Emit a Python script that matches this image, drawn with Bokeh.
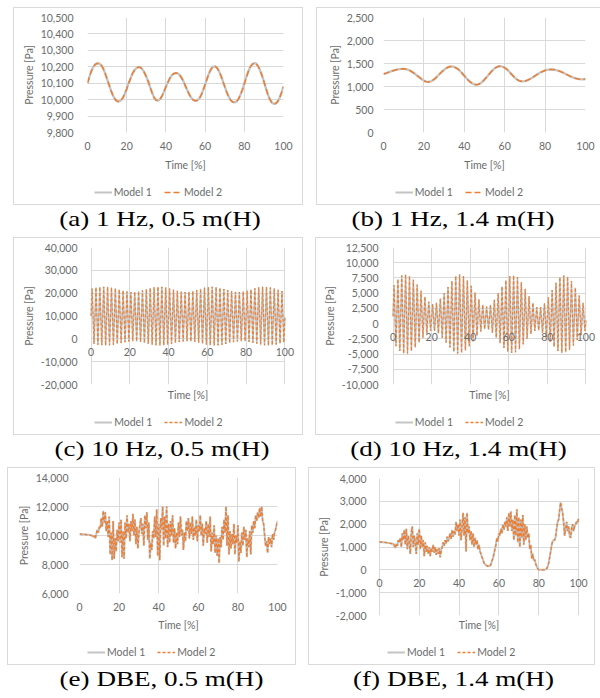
from bokeh.plotting import figure
from bokeh.models import (Range1d, FixedTicker, NumeralTickFormatter, LinearAxis,
                          Legend, LegendItem, Div, Grid)
from bokeh.layouts import column, row
from bokeh.embed import file_html
from bokeh.resources import INLINE

# ---------------- data ----------------
x_ticks = [0, 20, 40, 60, 80, 100]
series_labels = ["Model 1", "Model 2"]
captions = ["(a) 1 Hz, 0.5 m(H)", "(b) 1 Hz, 1.4 m(H)", "(c) 10 Hz, 0.5 m(H)",
            "(d) 10 Hz, 1.4 m(H)", "(e) DBE, 0.5 m(H)", "(f) DBE, 1.4 m(H)"]

y_ticks_a = [9800, 9900, 10000, 10100, 10200, 10300, 10400, 10500]
y_ticks_b = [0, 500, 1000, 1500, 2000, 2500]
y_ticks_c = [-20000, -10000, 0, 10000, 20000, 30000, 40000]
y_ticks_d = [-10000, -7500, -5000, -2500, 0, 2500, 5000, 7500, 10000, 12500]
y_ticks_e = [6000, 8000, 10000, 12000, 14000]
y_ticks_f = [-2000, -1000, 0, 1000, 2000, 3000, 4000]

time_1hz = list(range(101))
pressure_a = [10100, 10140, 10175, 10200, 10215, 10221, 10220, 10210, 10190, 10160,
              10125, 10090, 10055, 10025, 10003, 9991, 9988, 9995, 10010, 10035,
              10065, 10100, 10130, 10160, 10180, 10193, 10198, 10196, 10185, 10165,
              10140, 10110, 10075, 10040, 10012, 9997, 9994, 10003, 10022, 10048,
              10078, 10105, 10130, 10148, 10158, 10162, 10160, 10150, 10133, 10110,
              10082, 10055, 10030, 10010, 9998, 9993, 9995, 10006, 10028, 10058,
              10092, 10127, 10160, 10185, 10200, 10203, 10195, 10175, 10148, 10115,
              10080, 10047, 10018, 9998, 9986, 9983, 9988, 10003, 10028, 10060,
              10097, 10135, 10170, 10198, 10215, 10222, 10220, 10205, 10180, 10148,
              10110, 10070, 10033, 10003, 9983, 9975, 9976, 9988, 10010, 10043,
              10080]
pressure_b = [1270, 1285, 1300, 1318, 1333, 1347, 1360, 1370, 1378, 1383,
              1384, 1378, 1366, 1348, 1322, 1292, 1260, 1225, 1190, 1157,
              1127, 1106, 1098, 1103, 1122, 1153, 1193, 1238, 1283, 1326,
              1363, 1395, 1420, 1433, 1435, 1425, 1403, 1372, 1332, 1285,
              1235, 1184, 1137, 1097, 1065, 1045, 1040, 1048, 1070, 1105,
              1150, 1200, 1253, 1305, 1352, 1392, 1422, 1438, 1440, 1430,
              1408, 1375, 1333, 1285, 1237, 1192, 1155, 1128, 1114, 1112,
              1118, 1132, 1152, 1176, 1203, 1231, 1259, 1286, 1311, 1332,
              1349, 1361, 1368, 1370, 1368, 1362, 1351, 1336, 1318, 1298,
              1276, 1254, 1232, 1212, 1194, 1179, 1167, 1159, 1155, 1157,
              1163]

# 10 Hz: one peak and one trough per 2 % of time
start_c, end_c = 10000, 9500
peaks_c = [22000, 22500, 22700, 22800, 22750, 22500, 22100, 21600, 21100, 20700,
           20500, 20550, 20800, 21250, 21750, 22250, 22600, 22800, 22750, 22450,
           22000, 21500, 21000, 20650, 20500, 20600, 20900, 21400, 21900, 22400,
           22700, 22800, 22650, 22300, 21850, 21350, 20850, 20550, 20500, 20700,
           21100, 21600, 22100, 22550, 22800, 22750, 22450, 22000, 21450, 20950]
troughs_c = [-2200, -2600, -2800, -2900, -2850, -2600, -2250, -1850, -1450, -1150,
             -1000, -1100, -1400, -1800, -2200, -2550, -2800, -2900, -2800, -2550,
             -2200, -1800, -1400, -1100, -1000, -1100, -1350, -1750, -2150, -2500,
             -2750, -2900, -2850, -2600, -2250, -1850, -1450, -1150, -1000, -1050,
             -1300, -1700, -2100, -2500, -2800, -2900, -2750, -2450, -2050, -1600]
start_d, end_d = 1200, 500
peaks_d = [6300, 7300, 7900, 8050, 7800, 7200, 6400, 5400, 4400, 3600,
           3200, 3400, 4100, 5000, 6000, 7000, 7800, 8050, 7800, 7100,
           6200, 5100, 4000, 3100, 2800, 3100, 3900, 5000, 6100, 7100,
           7800, 7900, 7600, 6800, 5700, 4500, 3400, 2700, 2700, 3300,
           4300, 5500, 6700, 7600, 7900, 7700, 7000, 5900, 4600, 3400]
troughs_d = [-3700, -4500, -4900, -4900, -4500, -3900, -3100, -2300, -1600, -1200,
             -1200, -1600, -2300, -3100, -3900, -4600, -4900, -4800, -4400, -3700,
             -2900, -2000, -1300, -900, -1000, -1500, -2300, -3200, -4000, -4600,
             -4800, -4700, -4200, -3400, -2500, -1700, -1200, -1100, -1500, -2200,
             -3000, -3800, -4500, -4800, -4700, -4300, -3600, -2700, -1900, -1200]

time_dbe = [i * 0.5 for i in range(201)]
pressure_e = [10100, 10100, 10090, 10090, 10080, 10080, 10070, 10060, 10060, 10050,
              10040, 10030, 9980, 10020, 9900, 9980, 9800, 10100, 10400, 10200,
              10600, 10500, 11200, 10600, 11700, 10900, 11600, 10300, 11000, 9900,
              11300, 8700, 10200, 8300, 11000, 8400, 9800, 8900, 10400, 9600,
              10900, 9500, 11100, 8500, 10300, 8400, 10900, 9800, 11400, 10200,
              10800, 9600, 11000, 10300, 11500, 10000, 11100, 9400, 10600, 9100,
              10200, 10700, 11200, 10100, 10800, 9300, 11400, 10500, 11600, 9700,
              10900, 8400, 9500, 9000, 10300, 9800, 11300, 9900, 11800, 8600,
              10800, 8300, 11200, 10400, 12000, 9300, 11300, 9800, 12000, 9200,
              10800, 9500, 11000, 10000, 11400, 9500, 10500, 9100, 10200, 9400,
              10900, 9900, 11300, 10000, 10400, 9000, 10200, 9600, 11000, 10300,
              11200, 9800, 10900, 10100, 11300, 9700, 10600, 10000, 11100, 9600,
              10700, 10300, 11400, 10000, 10800, 9300, 10500, 10100, 11000, 9500,
              10800, 9900, 11300, 8900, 10200, 9400, 10700, 8800, 10000, 8600,
              9800, 8100, 9900, 9200, 10600, 9700, 11100, 10200, 12000, 9300,
              11400, 8700, 10300, 9100, 10100, 9400, 10800, 8700, 10000, 9500,
              10700, 8200, 9600, 8800, 10200, 9300, 10600, 9700, 10400, 8500,
              9800, 9200, 10300, 8700, 10700, 10200, 11000, 10500, 11400, 11000,
              11600, 11200, 11900, 11300, 12000, 11000, 10800, 10000, 9300, 9600,
              8800, 9900, 9400, 9800, 9200, 10100, 9700, 10200, 10400, 10700,
              11000]
pressure_f = [1220, 1220, 1210, 1210, 1210, 1200, 1200, 1190, 1180, 1180,
              1170, 1160, 1150, 1140, 1150, 1050, 950, 1150, 1050, 1300,
              1200, 1400, 1000, 1600, 1300, 1750, 1100, 1800, 900, 1500,
              1200, 700, 1650, 1900, 1000, 1500, 1200, 700, 1600, 1100,
              1800, 900, 1500, 1000, 1300, 600, 1200, 800, 1050, 700,
              1000, 600, 950, 800, 1100, 750, 1000, 650, 900, 700,
              950, 550, 850, 1000, 1200, 1050, 1300, 1150, 1450, 1250,
              1400, 1600, 1350, 1750, 1450, 1700, 1550, 2100, 1700, 2000,
              1500, 2200, 1300, 1900, 2500, 1500, 2300, 800, 2500, 1600,
              1900, 1300, 1700, 1100, 1600, 1000, 1400, 1100, 1300, 900,
              1100, 800, 700, 550, 450, 300, 250, 200, 180, 150,
              180, 160, 250, 400, 500, 700, 900, 1100, 1400, 1250,
              1600, 1500, 1800, 1600, 2000, 1750, 2100, 1900, 2300, 1700,
              2500, 1900, 2550, 1700, 2200, 1300, 2400, 1500, 2650, 1200,
              2300, 1000, 2200, 1400, 2400, 1100, 2000, 1300, 1900, 1400,
              1600, 900, 1100, 500, 700, 400, 450, 250, 150, 50,
              0, 0, 0, 0, 0, 0, 0, 20, 50, 150,
              300, 550, 800, 1100, 1250, 1300, 1300, 1450, 1800, 2100,
              2200, 2600, 2950, 2700, 2500, 2100, 1500, 1800, 2100, 1700,
              1900, 1500, 1400, 1800, 2000, 1700, 1900, 2000, 2100, 2050,
              2250]


def oscillation(start, peaks, troughs, end):
    t, v = [0.0], [start]
    for i, (pk, tr) in enumerate(zip(peaks, troughs)):
        t += [2 * i + 0.5, 2 * i + 1.5]
        v += [pk, tr]
    t.append(100.0)
    v.append(end)
    return t, v


time_c, pressure_c = oscillation(start_c, peaks_c, troughs_c, end_c)
time_d, pressure_d = oscillation(start_d, peaks_d, troughs_d, end_d)

# ---------------- styling ----------------
FONT = "Lato"
TXT = "#6b6b6b"
GRID = "#d9d9d9"
GRAY = "#c4c4c4"
ORANGE = "#ed7d31"
FS = "10.5px"
HAS_CROSS = "cross_bounds" in Grid.properties()
PLOT_H, LEG_H = 166, 32


def drop_default_grids(fig):
    fig.center = [r for r in fig.center if not isinstance(r, Grid)]


def style_axis(ax):
    ax.major_tick_out = 0
    ax.major_tick_in = 0
    ax.minor_tick_out = 0
    ax.minor_tick_in = 0
    ax.major_label_text_font = FONT
    ax.major_label_text_font_size = FS
    ax.major_label_text_color = TXT
    ax.axis_label_text_font = FONT
    ax.axis_label_text_font_size = FS
    ax.axis_label_text_color = TXT
    ax.axis_label_text_font_style = "normal"
    ax.axis_line_color = None


def panel(w, lft, rgt, top, bot, t, vals, yt, fixed0, pad, dash, gray_w, orange_w,
          time_stand, ystand, ylab_stand, ml, leg_x, right_edge=True):
    p = figure(width=w, height=PLOT_H, output_backend="svg", toolbar_location=None,
               x_range=Range1d(x_ticks[0] - pad, x_ticks[-1] + pad),
               y_range=Range1d(yt[0], yt[-1]),
               x_axis_location=None, y_axis_location=None)
    drop_default_grids(p)
    p.min_border_left = lft
    p.min_border_right = rgt
    p.min_border_top = top
    p.min_border_bottom = bot
    p.outline_line_color = None
    p.border_fill_alpha = 0
    p.background_fill_color = "white"

    xtk = FixedTicker(ticks=x_ticks)
    ytk = FixedTicker(ticks=yt)
    p.add_layout(Grid(dimension=0, ticker=xtk, grid_line_color=GRID, grid_line_width=1))
    hg = Grid(dimension=1, ticker=ytk, grid_line_color=GRID, grid_line_width=1)
    if HAS_CROSS:
        hg.cross_bounds = (x_ticks[0], x_ticks[-1])
    p.add_layout(hg)

    ya = LinearAxis(ticker=ytk, formatter=NumeralTickFormatter(format="0,0"),
                    axis_label="Pressure [Pa]")
    style_axis(ya)
    ya.major_label_standoff = ystand
    ya.axis_label_standoff = ylab_stand
    p.add_layout(ya, "left")

    if fixed0:
        # horizontal axis crosses the value axis at 0 (labels sit under the zero line)
        xa0 = LinearAxis(ticker=xtk, fixed_location=0)
        style_axis(xa0)
        xa0.major_label_standoff = 9
        p.add_layout(xa0, "below")
        xa = LinearAxis(ticker=FixedTicker(ticks=[]), axis_label="Time [%]")
        style_axis(xa)
        xa.major_label_standoff = 0
    else:
        xa = LinearAxis(ticker=xtk, axis_label="Time [%]")
        style_axis(xa)
        xa.major_label_standoff = 9
    xa.axis_label_standoff = time_stand
    p.add_layout(xa, "below")

    p.line(t, vals, line_color=GRAY, line_width=gray_w)
    p.line(t, vals, line_color=ORANGE, line_width=orange_w, line_dash=dash)

    # legend strip (inside the same chart box, under the axis title); its value
    # range lies below every data value, so only the legend keys show
    span = yt[-1] - yt[0]
    lf = figure(width=w, height=LEG_H, output_backend="svg", toolbar_location=None,
                x_range=Range1d(x_ticks[0], x_ticks[-1]),
                y_range=Range1d(yt[0] - 3 * span, yt[0] - 2 * span),
                x_axis_location=None, y_axis_location=None, min_border=0)
    drop_default_grids(lf)
    lf.outline_line_color = None
    lf.border_fill_alpha = 0
    lf.background_fill_alpha = 0
    k1 = lf.line(t, vals, line_color=GRAY, line_width=2.0)
    k2 = lf.line(t, vals, line_color=ORANGE, line_width=1.5, line_dash=dash)
    leg = Legend(items=[LegendItem(label=series_labels[0], renderers=[k1]),
                        LegendItem(label=series_labels[1], renderers=[k2])],
                 location=(leg_x, 7), orientation="horizontal")
    leg.label_text_font = FONT
    leg.label_text_font_size = FS
    leg.label_text_color = TXT
    leg.glyph_width = 18
    leg.glyph_height = 12
    leg.label_height = 12
    leg.label_standoff = 2
    leg.spacing = 12
    leg.padding = 0
    leg.margin = 0
    leg.border_line_color = None
    leg.background_fill_alpha = 0
    lf.add_layout(leg)

    shadows = ["inset 1px 0 0 #d9d9d9", "inset 0 1px 0 #d9d9d9", "inset 0 -1px 0 #d9d9d9"]
    if right_edge:
        shadows.append("inset -1px 0 0 #d9d9d9")
    box = column(p, lf, margin=(0, 0, 0, ml))
    box.styles = {"box-shadow": ", ".join(shadows)}
    return box


def caption(text, w, h, ml, shift):
    html = ('<div style="width:%dpx;font-family:\'Liberation Serif\',serif;font-size:21.5px;'
            'line-height:1;color:#000;text-align:center;white-space:nowrap;'
            'padding-top:4px;position:relative;left:%dpx;transform:scaleX(1.26);">%s</div>'
            % (w, shift, text))
    return Div(text=html, width=w, height=h, margin=(0, 0, 0, ml))


#            w   lft rgt top bot  data                     ticks      fixed pad dash  gw  ow   ts ys yl ml  leg_x
fa = panel(290, 74, 20, 10, 40, time_1hz, pressure_a, y_ticks_a, False, 0, "6 3", 2.3, 1.5, 6, 14, 3, 6, 6.7)
fb = panel(284, 67, 15, 10, 40, time_1hz, pressure_b, y_ticks_b, False, 0, "6 3", 2.3, 1.5, 6, 10, 3, 13, 11.7,
           right_edge=False)
fc = panel(290, 66, 7, 10, 17, time_c, pressure_c, y_ticks_c, True, 6, "3 2", 1.6, 1.0, 4, 2, 3, 6, 15.2)
fd = panel(285, 66, 3, 10, 17, time_d, pressure_d, y_ticks_d, True, 6, "3 2", 1.6, 1.0, 4, 3, 3, 12, 13.8,
           right_edge=False)
fe = panel(289, 72, 19, 10, 39, time_dbe, pressure_e, y_ticks_e, False, 0, "3 2", 2.0, 1.3, 5, 11, 3, 0, 8)
ff = panel(287, 59, 5, 11, 16, time_dbe, pressure_f, y_ticks_f, True, 6, "3 2", 2.0, 1.3, 3, 1, 3, 12, 19.9)

cap_a = caption(captions[0], 290, 32, 6, 2)
cap_b = caption(captions[1], 284, 32, 13, -5)
cap_c = caption(captions[2], 290, 32, 6, 4)
cap_d = caption(captions[3], 285, 32, 12, 1)
cap_e = caption(captions[4], 289, 33, 0, 10)
cap_f = caption(captions[5], 287, 33, 12, 2)

layout = column(
    row(column(fa, cap_a), column(fb, cap_b)),
    row(column(fc, cap_c), column(fd, cap_d)),
    row(column(fe, cap_e), column(ff, cap_f)),
)
layout.margin = (7, 0, 0, 7)

open("out.html", "w").write(file_html(layout, INLINE))
